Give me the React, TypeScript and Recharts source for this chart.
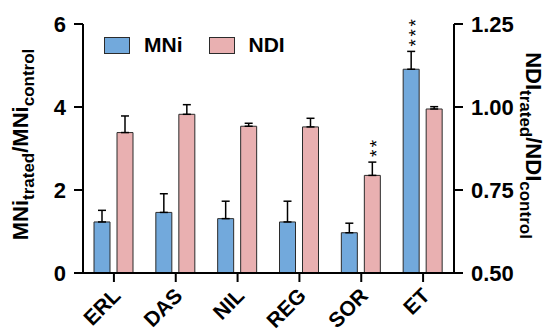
import { BarChart, Bar, XAxis, YAxis, ErrorBar, Legend, LabelList } from "recharts";

const categories = ["ERL", "DAS", "NIL", "REG", "SOR", "ET"];
const mniValues = [1.23, 1.46, 1.31, 1.23, 0.97, 4.91];
const mniErrors = [0.28, 0.45, 0.42, 0.5, 0.23, 0.43];
const ndiValues = [0.923, 0.978, 0.942, 0.94, 0.794, 0.994];
const ndiErrors = [0.05, 0.029, 0.009, 0.026, 0.04, 0.007];
const mniMarks = ["", "", "", "", "", "***"];
const ndiMarks = ["", "", "", "", "**", ""];
const leftTicks = [0, 2, 4, 6];
const rightTicks = [0.5, 0.75, 1.0, 1.25];

const FONT = "'Liberation Sans', Arial, Helvetica, sans-serif";
const BLUE = "#72a9dc";
const PINK = "#e9b0b1";
const EDGE = "#2b2b2b";

const data = categories.map((name, i) => ({
  name,
  mni: mniValues[i],
  mniErr: [0, mniErrors[i]],
  mniMark: mniMarks[i],
  ndi: ndiValues[i],
  ndiErr: [0, ndiErrors[i]],
  ndiMark: ndiMarks[i],
}));

// stars sit above the error bar; bar px/unit is taken from the drawn bar itself
const starLabel = (values: number[], errors: number[], base: number) => (props: any) => {
  const { value, index } = props;
  if (!value) return null;
  const vb = props.viewBox ?? props;
  const h = Math.abs(vb.height);
  const top = Math.min(vb.y, vb.y + vb.height);
  const perUnit = h / (values[index] - base);
  const errTop = top - errors[index] * perUnit;
  const fs = 19;
  const bx = vb.x + vb.width / 2 + fs * 0.58;
  const by = errTop - 5;
  return (
    <text
      x={bx}
      y={by}
      fontSize={fs}
      fontFamily={FONT}
      fill="#000"
      letterSpacing={2.5}
      textAnchor="start"
      transform={`rotate(-90, ${bx}, ${by})`}
    >
      {value}
    </text>
  );
};

const CategoryTick = (props: any) => {
  const { x, y, payload } = props;
  return (
    <g transform={`translate(${x},${y})`}>
      <text
        x={8}
        y={13}
        textAnchor="end"
        transform="rotate(-45, 8, 13)"
        fontSize={21}
        fontWeight="bold"
        fontFamily={FONT}
        fill="#000"
      >
        {payload.value}
      </text>
    </g>
  );
};

const LeftTitle = (props: any) => {
  const vb = props.viewBox;
  const x = vb.x + 28;
  const y = vb.y + vb.height / 2 - 4;
  return (
    <text
      x={x}
      y={y}
      textAnchor="middle"
      transform={`rotate(-90, ${x}, ${y})`}
      fontFamily={FONT}
      fontWeight="bold"
      fontSize={22}
      fill="#000"
    >
      <tspan>MNi</tspan>
      <tspan fontSize={17} dy={6}>trated</tspan>
      <tspan dy={-6}>/MNi</tspan>
      <tspan fontSize={17} dy={6}>control</tspan>
    </text>
  );
};

const RightTitle = (props: any) => {
  const vb = props.viewBox;
  const x = vb.x + 72;
  const y = vb.y + vb.height / 2 - 3;
  return (
    <text
      x={x}
      y={y}
      textAnchor="middle"
      transform={`rotate(90, ${x}, ${y})`}
      fontFamily={FONT}
      fontWeight="bold"
      fontSize={22}
      fill="#000"
    >
      <tspan>NDI</tspan>
      <tspan fontSize={17} dy={6}>trated</tspan>
      <tspan dy={-6}>/NDI</tspan>
      <tspan fontSize={17} dy={6}>control</tspan>
    </text>
  );
};

const LegendBox = ({ payload }: any) => (
  <div style={{ display: "flex", alignItems: "center", fontFamily: FONT }}>
    {(payload ?? []).map((item: any) => (
      <div key={item.value} style={{ display: "flex", alignItems: "center", marginRight: 26 }}>
        <span
          style={{
            width: 24,
            height: 15,
            background: item.color,
            border: `1.5px solid ${EDGE}`,
            display: "inline-block",
          }}
        />
        <span style={{ marginLeft: 14, fontSize: 21, fontWeight: "bold", color: "#000", lineHeight: "20px" }}>
          {item.value}
        </span>
      </div>
    ))}
  </div>
);

const tickStyle = { fontSize: 22, fontWeight: "bold", fill: "#000", fontFamily: FONT };

export default function App() {
  return (
    <div style={{ position: "absolute", left: 0, top: 0, width: 545, height: 336, background: "#fff" }}>
      <BarChart
        width={545}
        height={336}
        data={data}
        margin={{ top: 24, right: 0, bottom: 0, left: 0 }}
        barSize={16}
        barGap={7}
      >
        <XAxis
          dataKey="name"
          height={63}
          axisLine={{ stroke: "#000", strokeWidth: 2 }}
          tickLine={{ stroke: "#000", strokeWidth: 2 }}
          tickSize={9}
          tickMargin={2}
          interval={0}
          tick={<CategoryTick />}
        />
        <YAxis
          yAxisId="left"
          domain={[0, 6]}
          ticks={leftTicks}
          width={83}
          axisLine={{ stroke: "#000", strokeWidth: 2 }}
          tickLine={{ stroke: "#000", strokeWidth: 2 }}
          tickSize={9}
          tickMargin={8}
          tick={tickStyle}
          label={{ content: LeftTitle }}
        />
        <YAxis
          yAxisId="right"
          orientation="right"
          domain={[0.5, 1.25]}
          ticks={rightTicks}
          width={91}
          tickFormatter={(v: number) => v.toFixed(2)}
          axisLine={{ stroke: "#000", strokeWidth: 2 }}
          tickLine={{ stroke: "#000", strokeWidth: 2 }}
          tickSize={9}
          tickMargin={8}
          tick={tickStyle}
          label={{ content: RightTitle }}
        />
        <Legend
          verticalAlign="middle"
          align="center"
          layout="horizontal"
          content={<LegendBox />}
          wrapperStyle={{ left: 104, top: 35, width: 300, height: 20 }}
        />
        <Bar
          yAxisId="left"
          dataKey="mni"
          name="MNi"
          fill={BLUE}
          stroke={EDGE}
          strokeWidth={1}
          isAnimationActive={false}
        >
          <ErrorBar dataKey="mniErr" width={4} stroke="#000" strokeWidth={1.5} />
          <LabelList dataKey="mniMark" content={starLabel(mniValues, mniErrors, 0)} />
        </Bar>
        <Bar
          yAxisId="right"
          dataKey="ndi"
          name="NDI"
          fill={PINK}
          stroke={EDGE}
          strokeWidth={1}
          isAnimationActive={false}
        >
          <ErrorBar dataKey="ndiErr" width={4} stroke="#000" strokeWidth={1.5} />
          <LabelList dataKey="ndiMark" content={starLabel(ndiValues, ndiErrors, 0.5)} />
        </Bar>
      </BarChart>
    </div>
  );
}
